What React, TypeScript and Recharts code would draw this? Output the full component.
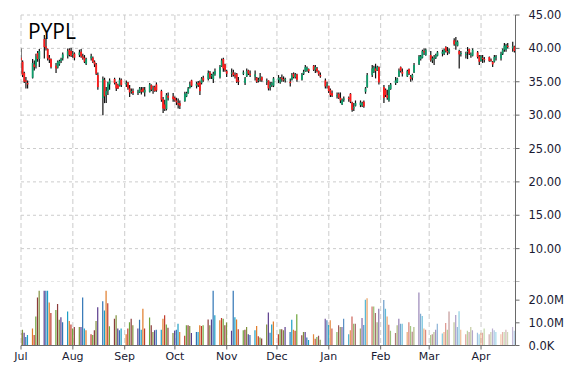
import React from 'react';
import { ComposedChart, Bar, XAxis, YAxis, CartesianGrid, Cell } from 'recharts';

// trading day offsets (days since Jul 1)
const TRADING_DAY: number[] = [
  0, 1, 2, 3, 4, 7, 8, 9, 10, 11,
  14, 15, 16, 17, 18, 21, 22, 23, 24, 25,
  28, 29, 30, 31, 32, 35, 36, 37, 38, 39,
  42, 43, 44, 45, 46, 49, 50, 51, 52, 53,
  56, 57, 58, 59, 60, 63, 64, 65, 66, 67,
  70, 71, 72, 73, 74, 77, 78, 79, 80, 81,
  84, 85, 86, 87, 88, 91, 92, 93, 94, 95,
  98, 99, 100, 101, 102, 105, 106, 107, 108, 109,
  112, 113, 114, 115, 116, 119, 120, 121, 122, 123,
  126, 127, 128, 129, 130, 133, 134, 135, 136, 137,
  140, 141, 142, 143, 144, 147, 148, 149, 150, 151,
  154, 155, 156, 157, 158, 161, 162, 163, 164, 165,
  168, 169, 170, 171, 172, 175, 176, 177, 178, 179,
  182, 183, 184, 185, 186, 189, 190, 191, 192, 193,
  196, 197, 198, 199, 200, 203, 204, 205, 206, 207,
  210, 211, 212, 213, 214, 217, 218, 219, 220, 221,
  224, 225, 226, 227, 228, 231, 232, 233, 234, 235,
  238, 239, 240, 241, 242, 245, 246, 247, 248, 249,
  252, 253, 254, 255, 256, 259, 260, 261, 262, 263,
  266, 267, 268, 269, 270, 273, 274, 275, 276, 277,
  280, 281, 282, 283, 284, 287, 288, 289, 290, 291,
  294, 295,
];

const OPEN: number[] = [
  38.6, 38.0, 36.3, 35.2, 34.8, 35.6, 37.6, 37.4, 39.3, 38.4,
  41.4, 40.3, 39.9, 38.6, 38.4, 37.4, 37.1, 37.6, 38.1, 38.5,
  38.9, 39.8, 39.6, 39.0, 39.2, 39.0, 39.5, 38.8, 38.6, 37.7,
  38.5, 38.6, 38.0, 37.6, 36.0, 32.6, 35.3, 33.0, 33.6, 34.6,
  35.4, 34.8, 34.5, 34.4, 35.3, 34.6, 34.9, 34.0, 33.5, 33.6,
  33.4, 33.4, 33.8, 34.0, 33.4, 33.5, 34.5, 33.8, 34.2, 34.6,
  33.6, 32.4, 31.6, 30.9, 32.9, 32.8, 32.6, 32.2, 31.8, 31.8,
  32.1, 32.8, 33.3, 34.1, 35.2, 34.4, 34.8, 35.0, 34.8, 35.6,
  35.4, 36.4, 35.8, 35.4, 36.1, 35.7, 37.3, 38.4, 37.6, 36.6,
  36.2, 36.4, 36.0, 36.2, 35.2, 36.2, 34.8, 35.8, 36.7, 36.2,
  35.8, 35.6, 35.2, 35.5, 35.7, 35.0, 35.2, 34.2, 34.5, 34.4,
  35.3, 34.9, 35.6, 35.4, 35.2, 35.0, 35.3, 36.2, 35.7, 36.1,
  35.3, 36.2, 36.6, 36.6, 36.9, 37.4, 36.8, 37.0, 36.6, 36.0,
  35.2, 34.4, 34.4, 33.8, 33.3, 32.8, 33.2, 32.6, 31.6, 32.3,
  32.6, 33.2, 31.9, 31.0, 31.4, 31.5, 31.4, 32.0, 33.5, 34.2,
  36.0, 36.5, 37.0, 36.7, 37.2, 34.2, 33.8, 33.0, 32.2, 33.9,
  34.8, 34.9, 35.8, 37.2, 36.5, 35.8, 36.9, 35.8, 35.6, 36.4,
  37.6, 38.4, 38.6, 39.6, 39.0, 39.0, 38.2, 38.4, 38.6, 38.9,
  39.2, 39.2, 40.2, 39.6, 39.4, 41.2, 40.6, 40.4, 39.6, 39.2,
  39.0, 39.5, 39.9, 39.0, 38.9, 39.4, 38.8, 38.1, 38.6, 38.4,
  38.7, 38.3, 38.0, 38.0, 38.6, 38.5, 39.2, 39.8, 39.8, 40.4,
  40.0, 40.3,
];

const HIGH: number[] = [
  40.0, 38.2, 36.5, 35.7, 35.2, 38.4, 38.2, 39.2, 39.6, 39.9,
  42.0, 41.5, 40.0, 39.0, 38.5, 37.8, 38.2, 38.3, 38.6, 39.4,
  40.0, 40.0, 40.1, 39.6, 39.4, 39.8, 39.9, 39.2, 39.0, 38.6,
  39.2, 38.8, 38.2, 37.8, 36.4, 35.8, 35.6, 34.2, 35.0, 35.5,
  35.6, 35.0, 34.7, 35.6, 35.5, 35.2, 35.0, 34.5, 34.0, 34.0,
  33.8, 34.2, 34.2, 34.2, 34.2, 34.8, 34.6, 34.4, 34.4, 34.9,
  33.8, 32.7, 32.3, 33.3, 33.4, 33.3, 32.8, 32.6, 32.5, 32.2,
  33.5, 33.5, 34.2, 35.0, 35.3, 35.0, 35.1, 35.2, 35.7, 35.9,
  36.7, 36.6, 36.2, 36.5, 37.0, 37.5, 38.5, 38.6, 37.7, 36.8,
  37.0, 36.8, 36.4, 36.3, 35.7, 36.7, 35.7, 37.0, 36.8, 36.7,
  36.7, 35.7, 35.6, 36.3, 35.8, 35.5, 35.2, 35.0, 35.0, 35.7,
  36.0, 35.7, 36.1, 35.8, 35.6, 35.5, 36.3, 36.4, 36.3, 36.2,
  36.3, 36.8, 37.5, 37.3, 37.0, 37.5, 37.5, 37.2, 36.7, 36.4,
  35.5, 35.0, 34.4, 34.0, 33.7, 33.4, 33.4, 33.4, 32.5, 32.8,
  32.8, 33.3, 32.0, 31.8, 32.2, 32.2, 32.0, 32.2, 34.2, 36.3,
  37.5, 37.4, 37.7, 37.4, 37.3, 34.5, 34.0, 33.8, 34.5, 34.8,
  35.7, 35.6, 37.0, 37.3, 37.0, 36.8, 37.0, 36.0, 36.2, 37.8,
  39.0, 39.0, 39.8, 40.0, 40.0, 39.6, 38.8, 39.0, 39.2, 39.6,
  39.8, 40.0, 40.3, 40.2, 40.0, 41.5, 41.7, 41.2, 39.8, 39.6,
  39.5, 40.2, 40.0, 39.4, 40.0, 39.6, 39.0, 39.0, 39.0, 38.7,
  38.8, 38.5, 38.1, 39.0, 39.0, 39.5, 40.0, 40.8, 40.7, 40.8,
  41.0, 40.4,
];

const LOW: number[] = [
  36.2, 35.7, 34.8, 34.0, 34.0, 35.5, 36.7, 37.0, 38.0, 37.2,
  38.5, 39.7, 38.2, 37.8, 37.0, 36.3, 37.0, 37.4, 37.8, 38.2,
  38.5, 38.8, 38.7, 38.6, 38.2, 38.7, 38.6, 38.3, 37.8, 37.5,
  38.2, 37.8, 37.2, 36.0, 33.8, 30.0, 31.8, 31.8, 33.0, 33.8,
  34.6, 33.6, 33.9, 34.3, 34.2, 34.2, 33.8, 32.7, 33.2, 33.0,
  33.0, 33.3, 33.1, 33.4, 32.8, 33.4, 33.6, 33.2, 33.5, 33.5,
  32.0, 30.3, 30.6, 30.7, 32.2, 32.0, 32.0, 31.5, 31.0, 30.9,
  32.0, 32.7, 33.2, 34.0, 34.2, 34.0, 34.2, 33.0, 34.6, 35.0,
  35.2, 35.4, 35.4, 34.8, 35.9, 35.5, 37.2, 36.5, 36.5, 35.7,
  35.7, 35.8, 35.5, 34.8, 34.5, 36.0, 34.5, 35.7, 36.0, 35.7,
  35.2, 34.8, 34.9, 35.0, 35.0, 34.5, 33.7, 33.7, 34.2, 34.2,
  34.8, 34.7, 35.0, 35.0, 34.9, 34.3, 35.2, 35.5, 35.5, 35.0,
  35.2, 36.0, 36.5, 36.5, 36.3, 36.6, 36.3, 36.4, 35.9, 35.6,
  34.0, 34.0, 33.3, 32.7, 32.7, 32.5, 32.4, 31.8, 31.5, 32.0,
  32.0, 31.8, 30.5, 30.6, 31.3, 31.2, 31.2, 31.1, 33.2, 34.1,
  35.7, 36.3, 35.5, 36.6, 34.6, 31.8, 32.7, 32.3, 32.0, 33.8,
  34.5, 34.8, 35.7, 36.4, 35.8, 35.7, 36.0, 35.0, 35.2, 36.3,
  37.5, 38.2, 38.5, 39.0, 38.9, 38.0, 37.8, 37.5, 38.4, 38.8,
  38.8, 39.0, 39.4, 39.0, 39.2, 40.4, 39.8, 40.3, 37.0, 38.8,
  38.5, 38.4, 39.0, 38.6, 38.8, 38.5, 37.5, 38.0, 37.8, 37.9,
  38.0, 38.0, 37.2, 37.9, 38.2, 38.2, 39.0, 39.5, 39.5, 40.0,
  39.5, 39.4,
];

const CLOSE: number[] = [
  38.2, 36.0, 35.0, 35.0, 34.6, 37.8, 37.2, 38.8, 38.4, 39.6,
  40.2, 40.0, 38.5, 38.3, 37.2, 37.0, 38.0, 38.1, 38.4, 39.1,
  39.6, 39.0, 38.9, 39.2, 38.6, 39.4, 38.8, 38.5, 38.0, 38.4,
  38.8, 38.0, 37.6, 36.2, 34.2, 35.4, 32.8, 33.6, 34.8, 35.2,
  34.8, 34.0, 34.0, 35.3, 34.5, 34.8, 34.0, 33.4, 33.6, 33.3,
  33.5, 34.0, 33.5, 33.5, 33.8, 34.6, 33.8, 34.0, 33.6, 33.7,
  32.3, 31.0, 30.9, 33.0, 32.6, 32.4, 32.2, 31.9, 31.6, 31.4,
  33.2, 33.3, 34.0, 34.6, 34.4, 34.7, 34.5, 33.6, 35.5, 35.2,
  36.3, 35.6, 36.0, 36.2, 36.6, 37.2, 38.2, 37.0, 36.7, 36.2,
  36.4, 36.0, 35.8, 35.0, 35.0, 36.4, 35.5, 36.6, 36.2, 36.0,
  36.1, 35.0, 35.3, 35.7, 35.2, 35.1, 34.0, 34.5, 34.8, 35.5,
  35.6, 35.5, 35.4, 35.2, 35.4, 34.8, 36.0, 35.7, 36.1, 35.3,
  36.1, 36.5, 37.2, 37.1, 36.6, 36.8, 37.2, 36.6, 36.1, 35.8,
  34.3, 34.6, 33.6, 33.0, 32.9, 33.0, 32.6, 32.2, 32.3, 32.5,
  32.4, 32.0, 30.8, 31.2, 31.8, 31.9, 31.8, 31.3, 34.0, 36.0,
  37.0, 37.2, 36.6, 37.2, 34.9, 32.6, 33.0, 32.6, 34.2, 34.6,
  35.2, 35.5, 36.7, 36.6, 36.2, 36.6, 36.2, 35.4, 36.0, 37.5,
  38.8, 38.8, 39.6, 39.4, 39.8, 38.2, 38.5, 38.6, 39.0, 39.4,
  39.5, 39.8, 39.6, 39.4, 39.8, 40.6, 41.0, 41.0, 39.1, 39.3,
  39.2, 39.6, 39.2, 39.1, 39.8, 38.7, 38.0, 38.8, 38.4, 38.3,
  38.1, 38.2, 37.6, 38.7, 38.8, 39.2, 39.8, 40.4, 40.5, 40.2,
  40.3, 39.6,
];

// volume in millions
const VOLUME_M: number[] = [
  5.5, 7.0, 5.6, 3.8, 4.6, 7.5, 4.6, 12.8, 21.2, 24.1,
  24.1, 24.1, 24.1, 19.0, 14.3, 15.7, 18.3, 11.4, 12.5, 10.3,
  15.0, 10.8, 9.3, 7.5, 8.2, 8.2, 8.2, 21.2, 7.5, 6.7,
  5.0, 4.6, 6.7, 10.8, 16.9, 19.5, 15.4, 24.1, 18.6, 8.5,
  11.8, 13.3, 7.5, 6.7, 7.5, 5.0, 7.5, 10.3, 11.8, 8.9,
  7.5, 11.4, 7.0, 16.2, 7.5, 12.3, 8.9, 6.0, 6.7, 7.0,
  7.0, 11.8, 13.3, 9.3, 7.8, 5.5, 6.5, 7.0, 9.6, 6.0,
  4.3, 8.9, 8.9, 8.6, 5.5, 5.9, 5.9, 8.9, 8.6, 8.9,
  11.5, 8.9, 11.5, 24.1, 13.3, 11.1, 12.1, 11.8, 8.9, 10.1,
  6.5, 24.1, 12.5, 11.5, 7.2, 6.7, 7.0, 8.2, 5.0, 4.6,
  6.7, 8.6, 4.1, 3.5, 3.1, 9.3, 14.6, 5.6, 9.3, 10.6,
  5.0, 7.2, 7.2, 6.7, 8.2, 6.0, 11.4, 7.0, 6.5, 13.8,
  4.5, 6.0, 6.0, 3.5, 2.4, 5.0, 3.0, 3.8, 4.3, 2.5,
  11.8, 11.1, 9.0, 11.1, 7.5, 6.0, 8.9, 8.2, 8.2, 11.8,
  5.0, 6.7, 12.8, 9.6, 9.6, 7.5, 12.1, 9.0, 20.2, 20.8,
  17.2, 17.2, 14.3, 10.3, 16.2, 20.1, 16.2, 12.8, 9.2, 6.5,
  5.5, 8.9, 11.8, 9.6, 9.6, 6.0, 10.3, 8.6, 6.1, 8.2,
  23.4, 14.0, 13.0, 7.5, 7.0, 4.6, 5.0, 6.0, 7.0, 9.6,
  5.3, 6.0, 9.9, 7.0, 15.0, 10.3, 13.4, 8.2, 15.1, 7.0,
  5.0, 6.5, 6.0, 8.2, 6.7, 5.6, 5.0, 5.6, 5.6, 7.5,
  5.0, 6.0, 7.5, 6.7, 6.0, 5.0, 6.0, 6.0, 7.0, 6.0,
  8.2, 6.5,
];

const MONTH_TICKS: number[] = [0, 31, 62, 92, 123, 153, 184, 215, 244, 275];
const MONTH_LABELS: string[] = ['Jul', 'Aug', 'Sep', 'Oct', 'Nov', 'Dec', 'Jan', 'Feb', 'Mar', 'Apr'];
const PRICE_TICKS: number[] = [5, 10, 15, 20, 25, 30, 35, 40, 45];
const VOLUME_TICKS: number[] = [0, 10000000, 20000000];
const TITLE = 'PYPL';

const VOL_PALETTE = ['#8b3a3a', '#7f8f3a', '#5b3c8c', '#2f74b5', '#1c9fc6', '#e07b28', '#c0392b', '#6ea53a'];
const UP = '#0f9d6b';
const DOWN = '#ff1a1a';

const n = Math.min(TRADING_DAY.length, OPEN.length, HIGH.length, LOW.length, CLOSE.length, VOLUME_M.length);
const rows = Array.from({ length: n }, (_, i) => ({
  t: TRADING_DAY[i],
  open: OPEN[i],
  high: HIGH[i],
  low: LOW[i],
  close: CLOSE[i],
  vol: VOLUME_M[i] * 1e6,
}));

const X_DOMAIN: [number, number] = [0, 295.6];
const FONT = 'DejaVu Sans';
const TEXT = '#1a1a33';
const AXIS = '#6a6a6a';
const GRID = '#cccccc';

const Candle = (props: any) => {
  const { x, y, width, height, payload } = props;
  if (x == null || y == null) return null;
  const cx = x + width / 2;
  const { open, close, high, low } = payload;
  const k = high === low ? 0 : height / (high - low);
  const yo = y + (high - open) * k;
  const yc = y + (high - close) * k;
  const top = Math.min(yo, yc);
  const bh = Math.max(Math.abs(yc - yo), 1);
  const col = close >= open ? UP : DOWN;
  return (
    <g>
      <line x1={cx} x2={cx} y1={y} y2={y + height} stroke="#111" strokeWidth={1.2} />
      <rect x={cx - 0.9} y={top} width={1.8} height={bh} fill={col} />
    </g>
  );
};

const monthLabel = (v: number) => {
  const i = MONTH_TICKS.indexOf(v);
  return i >= 0 ? MONTH_LABELS[i] : '';
};

const volOpacity = (i: number) => (i < 125 ? 1 : 0.9 - ((i - 125) / (n - 125)) * 0.55);

export default function App() {
  return (
    <div style={{ position: 'absolute', left: 0, top: 0, width: 570, height: 370, background: '#fff' }}>
      <div style={{ position: 'absolute', left: 0, top: 0 }}>
        <ComposedChart width={570} height={282} data={rows} margin={{ top: 15, right: 0, bottom: 0, left: 21 }}>
          <CartesianGrid horizontal={true} vertical={false} stroke={GRID} strokeDasharray="3 3" />
          <CartesianGrid horizontal={false} vertical={true} stroke={GRID} strokeDasharray="5 3" />
          <XAxis type="number" dataKey="t" domain={X_DOMAIN} ticks={MONTH_TICKS} allowDataOverflow hide height={0} />
          <YAxis
            orientation="right"
            domain={[5, 45]}
            ticks={PRICE_TICKS}
            interval={0}
            width={54.5}
            tickSize={4}
            tickMargin={9}
            stroke={AXIS}
            tick={{ fill: TEXT, fontSize: 11.5, fontFamily: FONT }}
            tickFormatter={(v: number) => (v === 5 ? '' : v.toFixed(2))}
          />
          <Bar
            dataKey={(d: any) => [d.low, d.high]}
            barSize={2}
            shape={(p: any) => <Candle {...p} />}
            isAnimationActive={false}
          />
        </ComposedChart>
      </div>
      <div style={{ position: 'absolute', left: 0, top: 270 }}>
        <ComposedChart width={570} height={100} data={rows} margin={{ top: 12, right: 0, bottom: 0, left: 21 }}>
          <CartesianGrid horizontal={false} vertical={true} stroke={GRID} strokeDasharray="5 3" />
          <XAxis
            type="number"
            dataKey="t"
            domain={X_DOMAIN}
            ticks={MONTH_TICKS}
            interval={0}
            allowDataOverflow
            height={24.5}
            tickSize={4}
            tickMargin={3}
            stroke={AXIS}
            tick={{ fill: TEXT, fontSize: 11, fontFamily: FONT }}
            tickFormatter={monthLabel}
          />
          <YAxis
            orientation="right"
            domain={[0, 28000000]}
            ticks={VOLUME_TICKS}
            interval={0}
            width={54.5}
            tickSize={4}
            tickMargin={9}
            stroke={AXIS}
            tick={{ fill: TEXT, fontSize: 11.5, fontFamily: FONT }}
            tickFormatter={(v: number) => (v === 0 ? '0.0K' : (v / 1e6).toFixed(1) + 'M')}
          />
          <Bar dataKey="vol" barSize={1.2} isAnimationActive={false}>
            {rows.map((_, i) => (
              <Cell key={i} fill={VOL_PALETTE[i % VOL_PALETTE.length]} fillOpacity={volOpacity(i)} />
            ))}
          </Bar>
        </ComposedChart>
      </div>
      <svg width={200} height={50} style={{ position: 'absolute', left: 0, top: 0, pointerEvents: 'none' }}>
        <text x={28} y={38.5} fontFamily="Open Sans" fontSize={21} fill="#000">
          {TITLE}
        </text>
      </svg>
    </div>
  );
}
